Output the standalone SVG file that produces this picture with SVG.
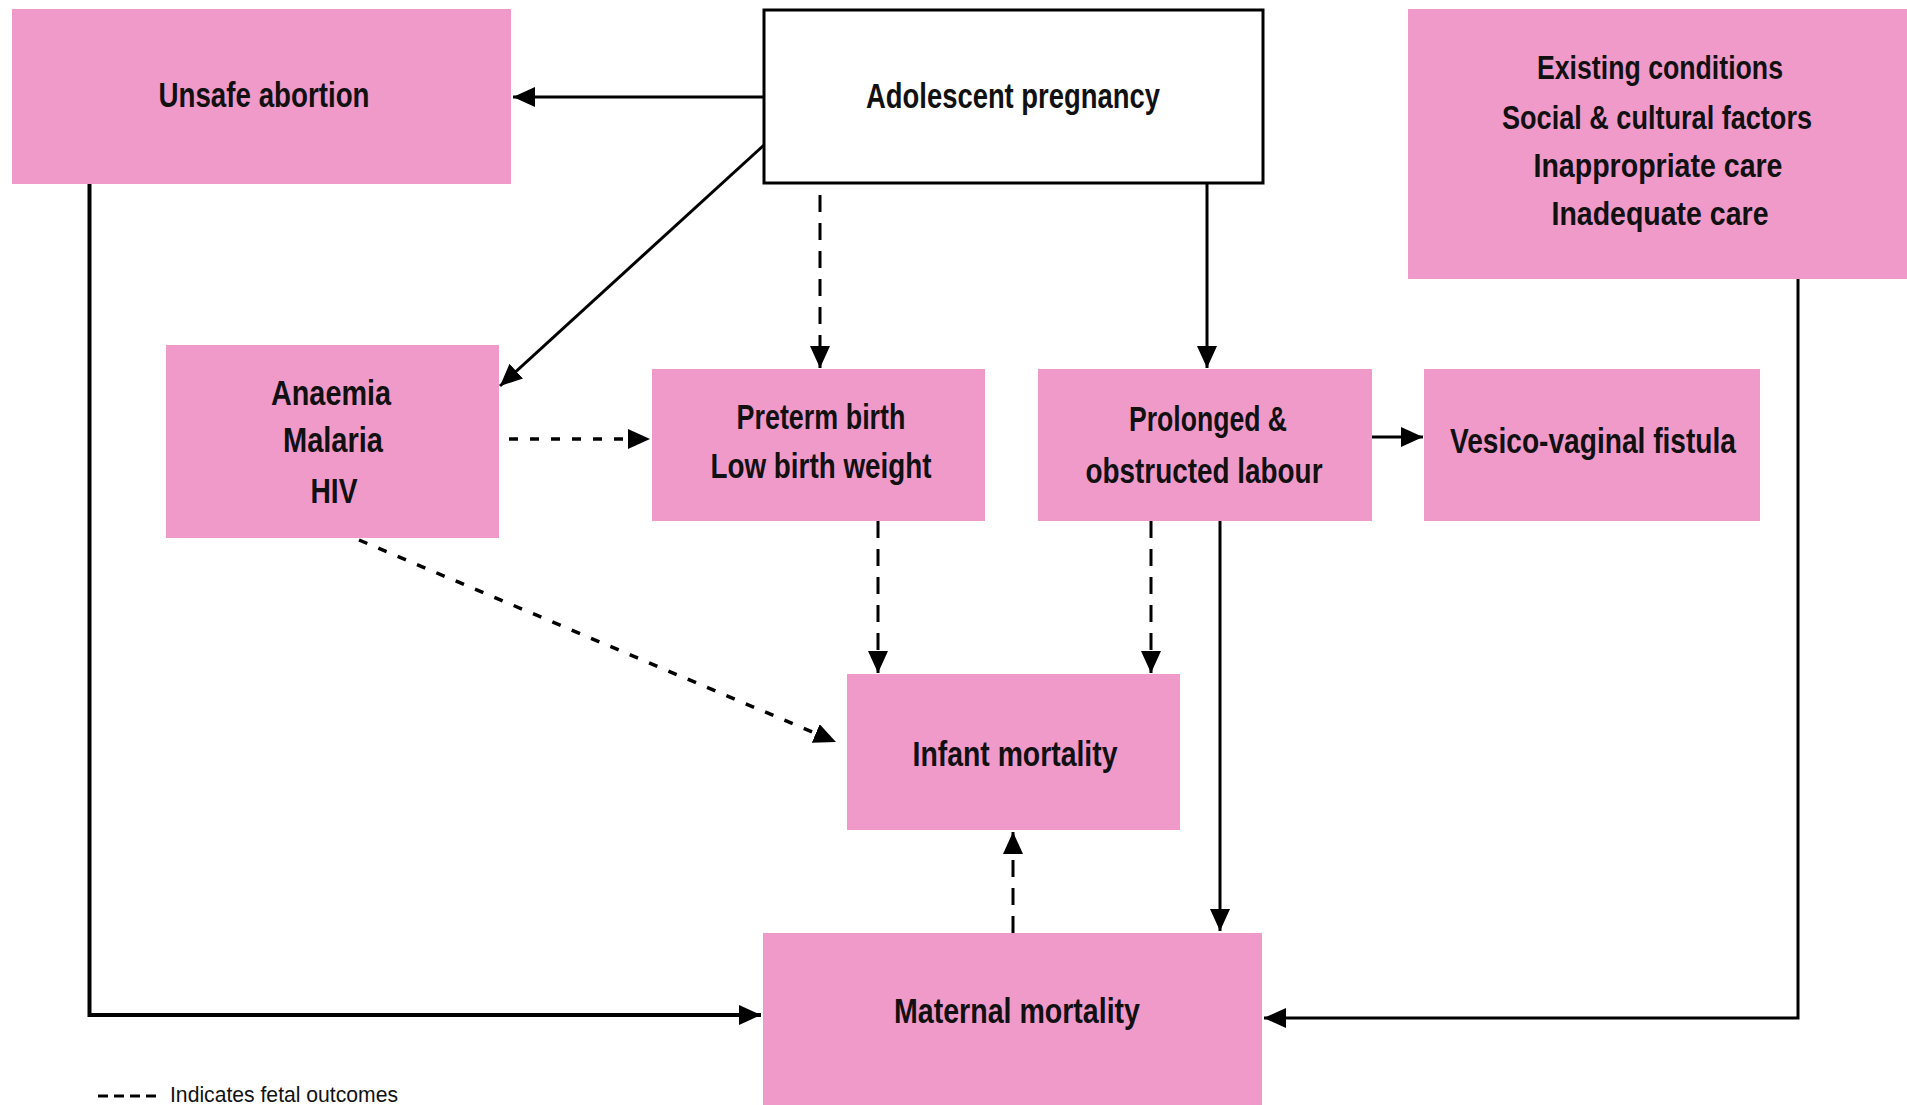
<svg xmlns="http://www.w3.org/2000/svg" width="1907" height="1105" viewBox="0 0 1907 1105">
  <style>
    .box { fill: #F09ACA; }
    .plain { fill: #FFFFFF; stroke: #000000; stroke-width: 3; }
    .lbl { font-family: "Liberation Sans Narrow", "Liberation Sans", Arial, sans-serif; font-weight: bold; font-size: 35px; fill: #111111; text-anchor: middle; }
    .small { font-family: "Liberation Sans Narrow", "Liberation Sans", Arial, sans-serif; font-size: 22px; fill: #111111; }
    .ln { fill: none; stroke: #000000; stroke-width: 3; }
    .dash { stroke-dasharray: 17 11; }
    .dot { stroke-dasharray: 9 12; stroke-width: 3.5; }
  </style>
  <defs>
    <marker id="arrow" markerUnits="userSpaceOnUse" markerWidth="24" markerHeight="22" refX="22" refY="10" orient="auto">
      <path d="M0,0 L22,10 L0,20 z" fill="#000000"/>
    </marker>
  </defs>

  <rect width="1907" height="1105" fill="#FFFFFF"/>

  <!-- connectors -->
  <g id="connectors">
    <path class="ln" d="M764,97 H513" marker-end="url(#arrow)"/>
    <path class="ln" d="M764,145 L500,386" marker-end="url(#arrow)"/>
    <path class="ln dash" d="M820,195 V368" marker-end="url(#arrow)"/>
    <path class="ln" d="M1207,184 V368" marker-end="url(#arrow)"/>
    <path class="ln dot" d="M509,439 H650" marker-end="url(#arrow)"/>
    <path class="ln dot" d="M359,540 L836,742" marker-end="url(#arrow)"/>
    <path class="ln dash" d="M878,521 V673" marker-end="url(#arrow)"/>
    <path class="ln dash" d="M1151,521 V673" marker-end="url(#arrow)"/>
    <path class="ln" d="M1372,437 H1423" marker-end="url(#arrow)"/>
    <path class="ln" d="M1220,521 V931" marker-end="url(#arrow)"/>
    <path class="ln" style="stroke-width:4" d="M89.5,184 V1015 H761" marker-end="url(#arrow)"/>
    <path class="ln" d="M1798,279 V1018 H1264" marker-end="url(#arrow)"/>
    <path class="ln dash" d="M1013,933 V832" marker-end="url(#arrow)"/>
  </g>

  <g id="unsafe-abortion">
    <rect class="box" x="12" y="9" width="499" height="175"/>
    <text class="lbl" x="264" y="107" textLength="211" lengthAdjust="spacingAndGlyphs">Unsafe abortion</text>
  </g>

  <g id="adolescent-pregnancy">
    <rect class="plain" x="764" y="10" width="499" height="173"/>
    <text class="lbl" x="1013" y="108" textLength="294" lengthAdjust="spacingAndGlyphs">Adolescent pregnancy</text>
  </g>

  <g id="existing-conditions">
    <rect class="box" x="1408" y="9" width="499" height="270"/>
    <text class="lbl" style="font-size:33px" x="1660" y="79" textLength="246" lengthAdjust="spacingAndGlyphs">Existing conditions</text>
    <text class="lbl" style="font-size:33px" x="1657" y="129" textLength="310" lengthAdjust="spacingAndGlyphs">Social &amp; cultural factors</text>
    <text class="lbl" style="font-size:33px" x="1658" y="177" textLength="249" lengthAdjust="spacingAndGlyphs">Inappropriate care</text>
    <text class="lbl" style="font-size:33px" x="1660" y="225" textLength="217" lengthAdjust="spacingAndGlyphs">Inadequate care</text>
  </g>

  <g id="anaemia-malaria-hiv">
    <rect class="box" x="166" y="345" width="333" height="193"/>
    <text class="lbl" x="331" y="405" textLength="120" lengthAdjust="spacingAndGlyphs">Anaemia</text>
    <text class="lbl" x="333" y="452" textLength="100" lengthAdjust="spacingAndGlyphs">Malaria</text>
    <text class="lbl" x="334" y="503" textLength="47" lengthAdjust="spacingAndGlyphs">HIV</text>
  </g>

  <g id="preterm-birth">
    <rect class="box" x="652" y="369" width="333" height="152"/>
    <text class="lbl" x="821" y="429" textLength="169" lengthAdjust="spacingAndGlyphs">Preterm birth</text>
    <text class="lbl" x="821" y="478" textLength="221" lengthAdjust="spacingAndGlyphs">Low birth weight</text>
  </g>

  <g id="prolonged-labour">
    <rect class="box" x="1038" y="369" width="334" height="152"/>
    <text class="lbl" x="1208" y="431" textLength="158" lengthAdjust="spacingAndGlyphs">Prolonged &amp;</text>
    <text class="lbl" x="1204" y="483" textLength="237" lengthAdjust="spacingAndGlyphs">obstructed labour</text>
  </g>

  <g id="vesico-vaginal-fistula">
    <rect class="box" x="1424" y="369" width="336" height="152"/>
    <text class="lbl" x="1593" y="453" textLength="286" lengthAdjust="spacingAndGlyphs">Vesico-vaginal fistula</text>
  </g>

  <g id="infant-mortality">
    <rect class="box" x="847" y="674" width="333" height="156"/>
    <text class="lbl" x="1015" y="766" textLength="205" lengthAdjust="spacingAndGlyphs">Infant mortality</text>
  </g>

  <g id="maternal-mortality">
    <rect class="box" x="763" y="933" width="499" height="172"/>
    <text class="lbl" x="1017" y="1023" textLength="246" lengthAdjust="spacingAndGlyphs">Maternal mortality</text>
  </g>

  <g id="legend">
    <path d="M98,1096 H160" stroke="#000000" stroke-width="3" stroke-dasharray="10 6"/>
    <text class="small" x="170" y="1102" textLength="228" lengthAdjust="spacingAndGlyphs">Indicates fetal outcomes</text>
  </g>
</svg>
